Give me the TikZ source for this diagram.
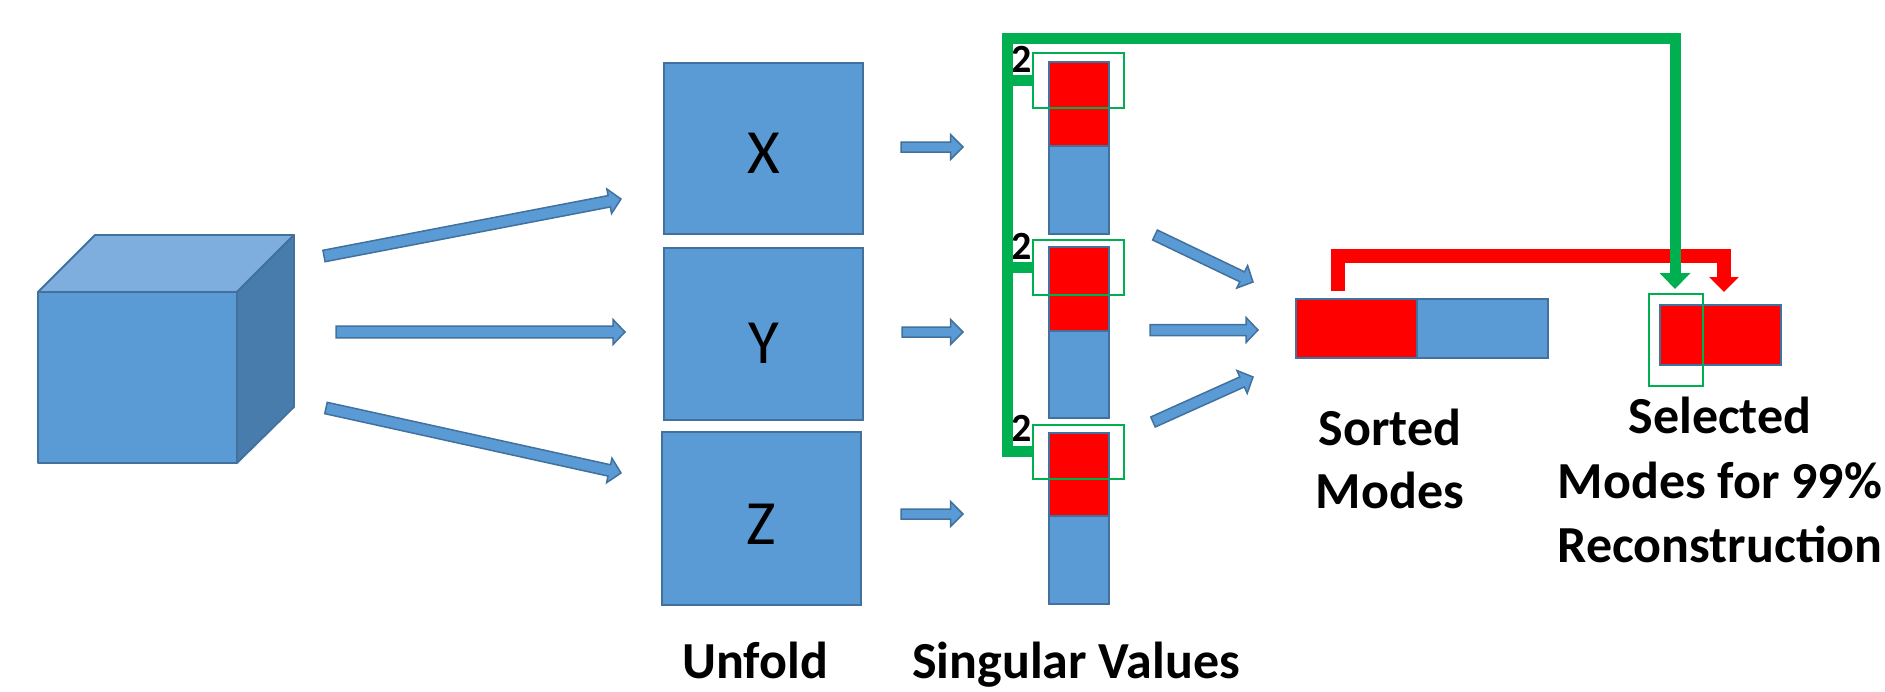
\documentclass[tikz,border=0pt]{standalone}
\usepackage{fontspec}
\setmainfont{Carlito}
\usetikzlibrary{calc,arrows.meta}
\definecolor{bfill}{HTML}{5B9BD5}
\definecolor{bline}{HTML}{41719C}
\definecolor{btop}{HTML}{7DAEDD}
\definecolor{bside}{HTML}{487CAC}
\definecolor{ggreen}{HTML}{00B050}
\definecolor{rred}{HTML}{FF0000}
\tikzset{
  bluebox/.style={draw=bline, fill=bfill, line width=1.8pt, inner sep=0pt},
  redbox/.style={draw=bline, fill=rred, line width=1.8pt, inner sep=0pt},
  selbox/.style={draw=ggreen, line width=1.8pt, inner sep=0pt},
  barrow/.style={draw=bline, fill=bfill, line width=1.5pt, line join=miter},
  cubeface/.style={draw=bline, line width=1.8pt, line join=round},
  letter/.style={font=\fontsize{63}{70}\selectfont, inner sep=0pt},
  lbl/.style={font=\fontsize{52}{64}\bfseries\selectfont, inner sep=0pt, anchor=base},
  num/.style={font=\fontsize{40}{44}\bfseries\selectfont, inner sep=0pt},
  gconn/.style={draw=ggreen, line width=11pt, line join=miter, line cap=butt},
  rconn/.style={draw=rred, line width=14pt, line join=miter, line cap=butt},
}
\newcommand\blockarrow[5]{%
  \coordinate (ba-h) at ($(#2)!#5!(#1)$);
  \filldraw[barrow] ($(#1)!#3!90:(#2)$) -- ($(ba-h)!#3!90:(#2)$) -- ($(ba-h)!#4!90:(#2)$) -- (#2)
    -- ($(ba-h)!#4!-90:(#2)$) -- ($(ba-h)!#3!-90:(#2)$) -- ($(#1)!#3!-90:(#2)$) -- cycle;}
\begin{document}
\begin{tikzpicture}[x=1pt,y=-1pt]
\useasboundingbox (0,0) rectangle (1885,691);

% cube
\coordinate (c1) at (38,292);
\coordinate (c2) at (237,292);
\coordinate (c3) at (237,463);
\coordinate (c4) at (38,463);
\coordinate (c5) at (95,235);
\coordinate (c6) at (294,235);
\coordinate (c7) at (294,407);
\filldraw[cubeface, fill=bfill] (c1) -- (c2) -- (c3) -- (c4) -- cycle;
\filldraw[cubeface, fill=btop] (c1) -- (c5) -- (c6) -- (c2) -- cycle;
\filldraw[cubeface, fill=bside] (c2) -- (c6) -- (c7) -- (c3) -- cycle;

% unfold boxes
\node[bluebox, anchor=north west, minimum width=199pt, minimum height=171pt] (X) at (663,62) {};
\node[bluebox, anchor=north west, minimum width=199pt, minimum height=172pt] (Y) at (663,247) {};
\node[bluebox, anchor=north west, minimum width=199pt, minimum height=173pt] (Z) at (661,431) {};
\node[letter] (Xl) at ([yshift=-5pt]X.center) {X};
\node[letter] (Yl) at ([yshift=-9pt]Y.center) {Y};
\node[letter] (Zl) at ([yshift=-6pt]Z.center) {Z};

% arrows cube -> unfold
\coordinate (a1s) at (324,256); \coordinate (a1e) at (621,199);
\coordinate (a2s) at (336,332); \coordinate (a2e) at (625,332);
\coordinate (a3s) at (326,408); \coordinate (a3e) at (621,473);
\blockarrow{a1s}{a1e}{5.8pt}{12.5pt}{12pt}
\blockarrow{a2s}{a2e}{5.8pt}{12.5pt}{12pt}
\blockarrow{a3s}{a3e}{5.8pt}{12.5pt}{12pt}

% arrows unfold -> singular values
\coordinate (s1s) at (901,147); \coordinate (s1e) at (963,147);
\coordinate (s2s) at (902,332); \coordinate (s2e) at (963,332);
\coordinate (s3s) at (901,514); \coordinate (s3e) at (963,514);
\blockarrow{s1s}{s1e}{5pt}{12.5pt}{12.5pt}
\blockarrow{s2s}{s2e}{5pt}{12.5pt}{12.5pt}
\blockarrow{s3s}{s3e}{5pt}{12.5pt}{12.5pt}

% singular value bars
\node[redbox, anchor=north west, minimum width=60pt, minimum height=84pt] (r1) at (1048,61) {};
\node[bluebox, anchor=north west, minimum width=60pt, minimum height=88pt] (b1) at (1048,145) {};
\node[redbox, anchor=north west, minimum width=60pt, minimum height=84pt] (r2) at (1048,246) {};
\node[bluebox, anchor=north west, minimum width=60pt, minimum height=87pt] (b2) at (1048,330) {};
\node[redbox, anchor=north west, minimum width=60pt, minimum height=83pt] (r3) at (1048,432) {};
\node[bluebox, anchor=north west, minimum width=60pt, minimum height=88pt] (b3) at (1048,515) {};

% green selection frames
\node[selbox, anchor=north west, minimum width=91pt, minimum height=55pt] (g1) at (1032,52) {};
\node[selbox, anchor=north west, minimum width=91pt, minimum height=55pt] (g2) at (1032,239) {};
\node[selbox, anchor=north west, minimum width=91pt, minimum height=54pt] (g3) at (1032,424) {};

% numbers
\node[num] (n1) at (1022,59) {2};
\node[num] (n2) at (1022,246) {2};
\node[num] (n3) at (1022,428) {2};

% arrows to sorted
\coordinate (t1s) at (1155,235); \coordinate (t1e) at (1253,282);
\coordinate (t2s) at (1150,330); \coordinate (t2e) at (1258,330);
\coordinate (t3s) at (1153,422); \coordinate (t3e) at (1253,377);
\blockarrow{t1s}{t1e}{5.5pt}{12.5pt}{12pt}
\blockarrow{t2s}{t2e}{5.5pt}{12.5pt}{12pt}
\blockarrow{t3s}{t3e}{5.5pt}{12.5pt}{12pt}

% sorted modes
\node[redbox, anchor=north west, minimum width=121pt, minimum height=59pt] (sr) at (1295,298) {};
\node[bluebox, anchor=north west, minimum width=131pt, minimum height=59pt] (sb) at (1416,298) {};

% selected modes
\node[redbox, anchor=north west, minimum width=121pt, minimum height=60pt] (sel) at (1659,304) {};
\node[selbox, anchor=north west, minimum width=54pt, minimum height=92pt] (selg) at (1648,293) {};

% red connector
\coordinate (rs) at (1338,291);
\coordinate (rt) at (1724,292);
\draw[rconn, -{Triangle[width=29pt,length=15pt]}] (rs) -- (rs |- 0,256) -- (rt |- 0,256) -- (rt);

% green connector
\coordinate (gv) at (1007,38);
\coordinate (gt) at (1675,289);
\draw[gconn, -{Triangle[width=30pt,length=16pt]}] (g3.west) -- (gv |- g3.west) -- (gv) -- (gt |- gv) -- (gt);
\draw[gconn] (gv |- g1.west) -- (g1.west);
\draw[gconn] (gv |- g2.west) -- (g2.west);

% labels
\node[lbl] (unf) at (755,678) {Unfold};
\node[lbl] (sing) at (1076,678) {Singular Values};
\node[lbl] (sort1) at (1390,445) {Sorted};
\node[lbl] (sort2) at (1390,508) {Modes};
\node[lbl] (sel1) at (1720,433) {Selected};
\node[lbl] (sel2) at (1720,498) {Modes for 99\%};
\node[lbl] (sel3) at (1720,562) {Reconstruction};
\end{tikzpicture}
\end{document}
